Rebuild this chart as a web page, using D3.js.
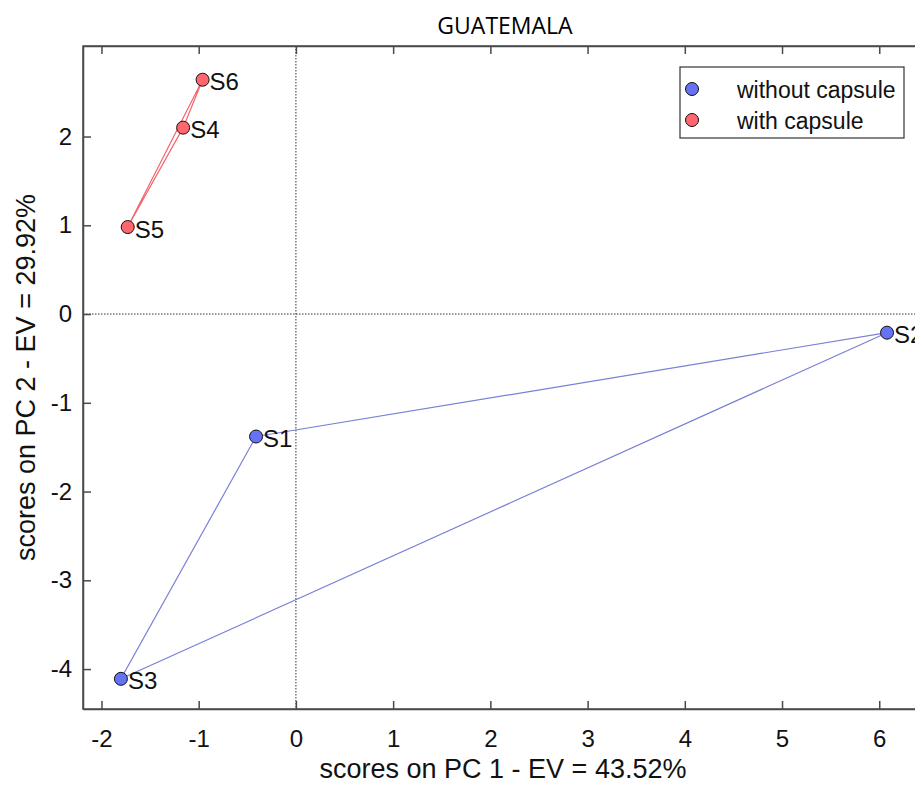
<!DOCTYPE html>
<html>
<head>
<meta charset="utf-8">
<script src="https://cdn.jsdelivr.net/npm/d3@7"></script>
<style>
  body { margin: 0; background: #fff; }
  svg { display: block; font-family: "Liberation Sans", Arial, sans-serif; }
  .axis path, .axis line { stroke: #4a4a4a; stroke-width: 1.5; }
  .axis text { font-size: 24px; fill: #111; font-family: "Liberation Sans", Arial, sans-serif; }
</style>
</head>
<body>
<svg id="chart" width="915" height="785"></svg>
<script>
"use strict";

// sample scores
var sampleNames = ["S1", "S2", "S3", "S4", "S5", "S6"];
var pc1Scores = [-0.41, 6.08, -1.80, -1.16, -1.73, -0.96];
var pc2Scores = [-1.38, -0.21, -4.11, 2.10, 0.98, 2.64];
var sampleGroup = ["without capsule", "without capsule", "without capsule",
                   "with capsule", "with capsule", "with capsule"];

var groups = ["without capsule", "with capsule"];
var groupFill = { "without capsule": "#6672f4", "with capsule": "#ff6670" };
var groupLine = { "without capsule": "#7a80d6", "with capsule": "#f2646e" };

var xTicks = [-2, -1, 0, 1, 2, 3, 4, 5, 6];
var yTicks = [-4, -3, -2, -1, 0, 1, 2];

var titleText = "GUATEMALA";
var xTitle = "scores on PC 1 - EV = 43.52%";
var yTitle = "scores on PC 2 - EV = 29.92%";

var svg = d3.select("#chart");
var plotLeft = 83, plotRight = 923, plotTop = 46, plotBottom = 709;

var x = d3.scaleLinear().domain([-2.19, 6.45]).range([plotLeft, plotRight]);
var y = d3.scaleLinear().domain([-4.45, 3.02]).range([plotBottom, plotTop]);

// plain hyphen like the original, not the unicode minus
var tickFmt = function (d) { return String(d); };

// frame
svg.append("rect")
    .attr("x", plotLeft).attr("y", plotTop)
    .attr("width", plotRight - plotLeft).attr("height", plotBottom - plotTop)
    .attr("fill", "none").attr("stroke", "#4a4a4a").attr("stroke-width", 1.5);

// dotted zero lines
svg.append("line")
    .attr("x1", x(0)).attr("x2", x(0)).attr("y1", plotTop).attr("y2", plotBottom)
    .attr("stroke", "#333").attr("stroke-width", 1).attr("stroke-dasharray", "1.5,1.5");
svg.append("line")
    .attr("x1", plotLeft).attr("x2", plotRight).attr("y1", y(0)).attr("y2", y(0))
    .attr("stroke", "#333").attr("stroke-width", 1).attr("stroke-dasharray", "1.5,1.5");

var xAxis = d3.axisBottom(x).tickValues(xTicks).tickSizeInner(-8).tickSizeOuter(0)
    .tickPadding(21).tickFormat(tickFmt);
svg.append("g").attr("class", "axis axis-x")
    .attr("transform", "translate(0," + plotBottom + ")")
    .call(xAxis);

var xAxisTop = d3.axisTop(x).tickValues(xTicks).tickSizeInner(-8).tickSizeOuter(0)
    .tickFormat("");
svg.append("g").attr("class", "axis axis-x-top")
    .attr("transform", "translate(0," + plotTop + ")")
    .call(xAxisTop);

var yAxis = d3.axisLeft(y).tickValues(yTicks).tickSizeInner(-8).tickSizeOuter(0)
    .tickPadding(11).tickFormat(tickFmt);
svg.append("g").attr("class", "axis axis-y")
    .attr("transform", "translate(" + plotLeft + ",0)")
    .call(yAxis);

// hull lines per group (triangle through the three samples)
var line = d3.line()
    .x(function (d) { return x(pc1Scores[d]); })
    .y(function (d) { return y(pc2Scores[d]); });
groups.forEach(function (g) {
    var idx = d3.range(sampleNames.length).filter(function (i) { return sampleGroup[i] === g; });
    svg.append("path")
        .datum(idx.concat([idx[0]]))
        .attr("d", line)
        .attr("fill", "none")
        .attr("stroke", groupLine[g])
        .attr("stroke-width", 1.2);
});

// points
var pts = svg.append("g").selectAll("g.pt")
    .data(d3.range(sampleNames.length))
    .enter().append("g").attr("class", "pt")
    .attr("transform", function (i) {
        return "translate(" + x(pc1Scores[i]) + "," + y(pc2Scores[i]) + ")";
    });
pts.append("circle").attr("r", 6.5)
    .attr("fill", function (i) { return groupFill[sampleGroup[i]]; })
    .attr("stroke", "#111").attr("stroke-width", 1);
pts.append("text")
    .attr("x", 7).attr("y", 2)
    .attr("dominant-baseline", "central")
    .style("font-size", "24px").style("fill", "#111")
    .text(function (i) { return sampleNames[i]; });

// legend
var legendG = svg.append("g").attr("class", "legend-g");
legendG.append("rect")
    .attr("x", 680).attr("y", 67).attr("width", 224).attr("height", 71)
    .attr("fill", "#fff").attr("stroke", "#333").attr("stroke-width", 1.2);
groups.forEach(function (g, i) {
    var row = legendG.append("g").attr("transform", "translate(692," + (89 + i * 31) + ")");
    row.append("circle").attr("r", 6.5)
        .attr("fill", groupFill[g]).attr("stroke", "#111").attr("stroke-width", 1);
    row.append("text").attr("x", 45).attr("y", 1)
        .attr("dominant-baseline", "central")
        .style("font-size", "23px").style("fill", "#111")
        .text(g);
});

// axis titles
svg.append("text")
    .attr("x", (plotLeft + plotRight) / 2).attr("y", 778)
    .attr("text-anchor", "middle")
    .style("font-size", "27px").style("fill", "#111")
    .text(xTitle);
svg.append("text")
    .attr("transform", "translate(35," + (plotTop + plotBottom) / 2 + ") rotate(-90)")
    .attr("text-anchor", "middle")
    .style("font-size", "27px").style("fill", "#111")
    .text(yTitle);

// title
svg.append("text")
    .attr("x", 505).attr("y", 34)
    .attr("text-anchor", "middle")
    .style("font-family", "'Open Sans', sans-serif")
    .style("font-size", "23px").style("fill", "#000")
    .text(titleText);
</script>
</body>
</html>
